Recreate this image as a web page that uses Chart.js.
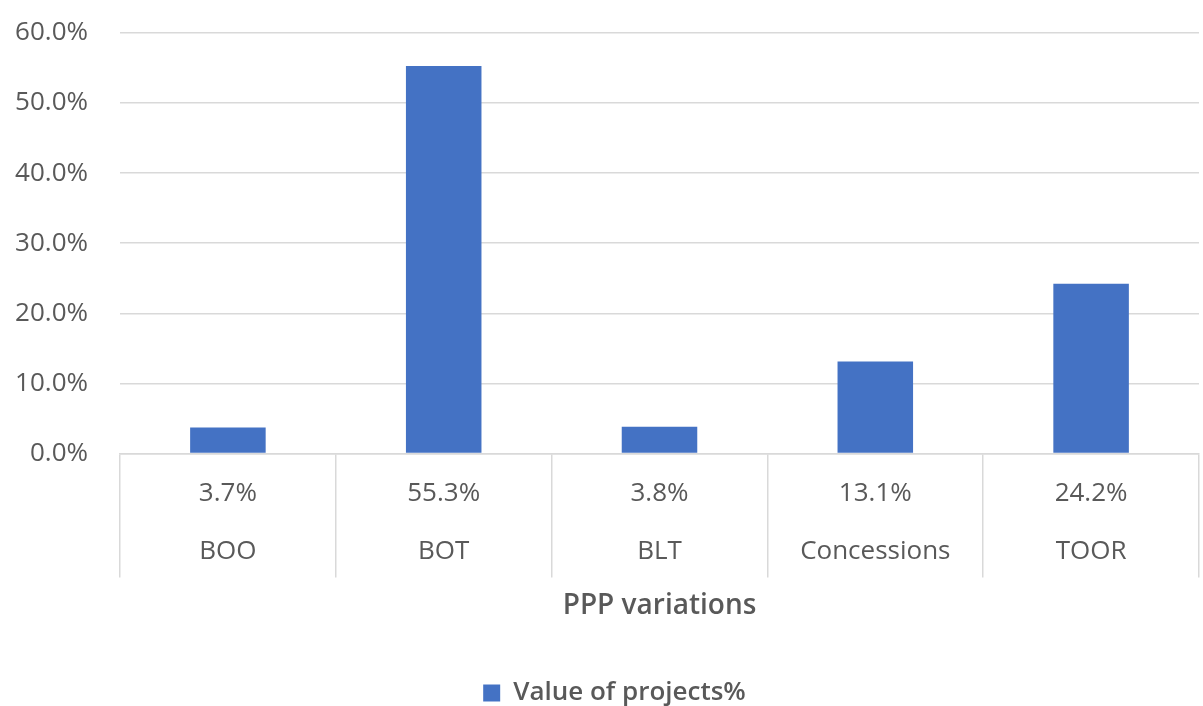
<!DOCTYPE html>
<html>
<head>
<meta charset="utf-8">
<script src="https://cdn.jsdelivr.net/npm/chart.js@4"></script>
<style>
  html, body { margin: 0; padding: 0; background: #ffffff; }
  #wrap { width: 1203px; height: 706px; }
</style>
</head>
<body>
<div id="wrap"><canvas id="chart" width="1203" height="706"></canvas></div>
<script>
const categories = ["BOO", "BOT", "BLT", "Concessions", "TOOR"];
const projectValues = [3.7, 55.3, 3.8, 13.1, 24.2];
const yTicks = [0, 10, 20, 30, 40, 50, 60];

const textColor = "#595959";
const gridColor = "#d9d9d9";
const barColor = "#4472c4";
const fontFamily = "'Open Sans', 'Noto Sans', sans-serif";
const fontSize = 26;

// data table under the axis: value row and category row, placed by the x scale
const dataTablePlugin = {
  id: "dataTable",
  afterLayout(chart) {
    // legend sits a bit right of the canvas centre in the original
    if (chart.legend) {
      chart.legend.left += 12;
      chart.legend.right += 12;
    }
  },
  afterDraw(chart) {
    const ctx = chart.ctx;
    const xs = chart.scales.x;
    ctx.save();
    ctx.fillStyle = textColor;
    ctx.font = fontSize + "px " + fontFamily;
    ctx.textAlign = "center";
    ctx.textBaseline = "middle";
    categories.forEach((c, i) => {
      const x = xs.getPixelForValue(i);
      ctx.fillText(projectValues[i].toFixed(1) + "%", x, xs.top + 40);
      ctx.fillText(c, x, xs.top + 98);
    });
    ctx.restore();
  }
};

new Chart(document.getElementById("chart"), {
  type: "bar",
  data: {
    labels: categories,
    datasets: [{
      label: "Value of projects%",
      data: projectValues,
      backgroundColor: barColor,
      borderWidth: 0,
      barPercentage: 0.35,
      categoryPercentage: 1
    }]
  },
  options: {
    responsive: false,
    animation: false,
    layout: { padding: { top: 33, right: 4, left: 6, bottom: -10 } },
    scales: {
      x: {
        offset: true,
        grid: {
          offset: true,
          drawOnChartArea: false,
          drawTicks: true,
          tickLength: 124,
          color: gridColor,
          lineWidth: 1.5
        },
        border: { display: true, color: gridColor, width: 1.5 },
        ticks: { display: false },
        title: {
          display: true,
          text: "PPP variations",
          color: textColor,
          font: { family: fontFamily, size: 28, weight: "600" },
          padding: { top: 12, bottom: 0 }
        }
      },
      y: {
        min: 0,
        max: 60,
        afterBuildTicks: (scale) => {
          scale.ticks = yTicks.map(v => ({ value: v }));
        },
        afterFit: (scale) => {
          scale.width = 114;
          scale.paddingTop = 0;
          scale.paddingBottom = 0;
        },
        grid: { color: gridColor, lineWidth: 1.5, drawTicks: false },
        border: { display: false },
        ticks: {
          color: textColor,
          padding: 32,
          font: { family: fontFamily, size: fontSize },
          callback: (v) => v.toFixed(1) + "%"
        }
      }
    },
    plugins: {
      legend: {
        position: "bottom",
        labels: {
          color: textColor,
          boxWidth: 17,
          boxHeight: 17,
          padding: 57,
          font: { family: fontFamily, size: fontSize, weight: "600" }
        }
      },
      tooltip: { enabled: false }
    }
  },
  plugins: [dataTablePlugin]
});
</script>
</body>
</html>
